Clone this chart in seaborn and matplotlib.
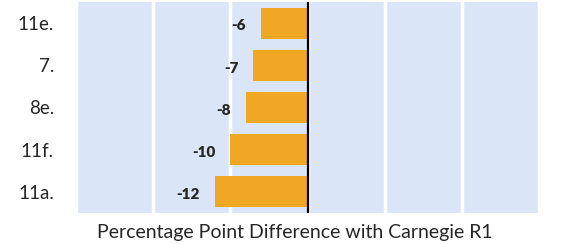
import matplotlib
matplotlib.use("Agg")
import matplotlib.pyplot as plt
import seaborn as sns
import pandas as pd

# data
items = ["11e.", "7.", "8e.", "11f.", "11a."]
diffs = [-6, -7, -8, -10, -12]

sns.set_style("whitegrid", {"axes.facecolor": "#DAE5F7", "grid.color": "white"})
plt.rcParams['font.family'] = ['Lato', 'DejaVu Sans']

df = pd.DataFrame({"item": items, "diff": diffs})

fig = plt.figure(figsize=(5.63, 2.44), dpi=100)
ax = fig.add_axes([76/563, 1-213/244, (539-76)/563, (213-2)/244])

sns.barplot(data=df, y="item", x="diff", orient="h", color="#F0A824",
            saturation=1, width=0.73, linewidth=0, ax=ax, zorder=2)

ax.set_xlim(-30, 30)
ax.set_ylim(4.5, -0.5)
ax.set_xticks(range(-30, 31, 10))
ax.set_xticklabels([])
ax.grid(axis="x", color="white", linewidth=2.5)
ax.grid(axis="y", visible=False)
ax.axvline(0, color="black", linewidth=1.6, zorder=3)
for s in ax.spines.values():
    s.set_visible(False)
ax.tick_params(axis="both", length=0)
ax.tick_params(axis="y", labelsize=13.5, pad=16)

# value labels just left of each bar end
for i, v in enumerate(diffs):
    ax.annotate(str(v), (v, i), xytext=(-11, -2), textcoords="offset points",
                ha="right", va="center", fontsize=11, fontweight="heavy")

ax.set_ylabel("")
ax.set_xlabel("Percentage Point Difference with Carnegie R1", fontsize=14)
ax.xaxis.set_label_coords(0.473, -0.05)

fig.savefig("out.png", dpi=100)
